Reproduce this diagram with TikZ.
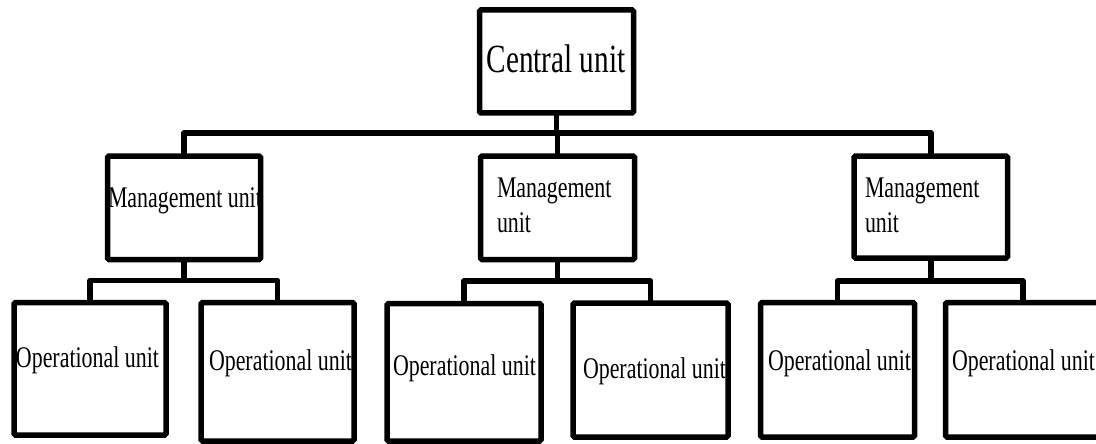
\documentclass[tikz,border=0pt]{standalone}
\usepackage{fontspec}
\newfontfamily\lblfont[FakeStretch=0.73]{Liberation Serif}
\begin{document}
\begin{tikzpicture}[x=1pt,y=-1pt,
  unitbox/.style={draw, line width=5.5pt, rounded corners=1.5pt, inner sep=0pt, outer sep=0pt},
  link/.style={line width=5.5pt, line join=round},
  txt/.style={inner sep=0pt, outer sep=0pt, font=\lblfont\fontsize{30}{35}\selectfont, anchor=base west, align=left},
  bigtxt/.style={inner sep=0pt, outer sep=0pt, font=\lblfont\fontsize{40}{46}\selectfont, anchor=base},
]
\useasboundingbox (0,0) rectangle (1096,444);
% boxes
\node[unitbox, minimum width=154pt, minimum height=103pt] (c) at (556.5,61.5) {};
\node[unitbox, minimum width=153pt, minimum height=103.5pt] (mL) at (184,207.75) {};
\node[unitbox, minimum width=154pt, minimum height=103.5pt] (mM) at (557.5,207.75) {};
\node[unitbox, minimum width=153.5pt, minimum height=102pt] (mR) at (930.75,207) {};
\node[unitbox, minimum width=152pt, minimum height=132.5pt] (o1) at (90,368.75) {};
\node[unitbox, minimum width=153pt, minimum height=138.5pt] (o2) at (277.5,371.75) {};
\node[unitbox, minimum width=154pt, minimum height=137.5pt] (o3) at (464,372.25) {};
\node[unitbox, minimum width=155pt, minimum height=134pt] (o4) at (650.5,370) {};
\node[unitbox, minimum width=154pt, minimum height=134.5pt] (o5) at (837.5,369.75) {};
\node[unitbox, minimum width=154.5pt, minimum height=134.5pt] (o6) at (1022.75,369.75) {};
% bus coordinates
\coordinate (bus) at (558,133);
\coordinate (sL) at (184,280.5);
\coordinate (sM) at (558,281);
\coordinate (sR) at (931,281);
% connectors
\draw[link] (c.south) -- (c.south |- bus);
\draw[link] (mL.north) |- (bus) -| (mR.north);
\draw[link] (mM.north) -- (mM.north |- bus);
\draw[link] (mL.south) -- (mL.south |- sL);
\draw[link] (o1.north) |- (sL) -| (o2.north);
\draw[link] (mM.south) -- (mM.south |- sM);
\draw[link] (o3.north) |- (sM) -| (o4.north);
\draw[link] (mR.south) -- (mR.south |- sR);
\draw[link] (o5.north) |- (sR) -| (o6.north);
% texts
\node[bigtxt] (tc) at (556,73) {Central unit};
\begin{scope}\clip (mL.north west) rectangle (mL.south east);
\node[txt] (tmL) at (108,207) {Management unit};\end{scope}
\node[txt] (tmM) at (497,232) {Management\\unit};
\node[txt] (tmR) at (865,232) {Management\\unit};
\begin{scope}\clip (o1.north west) rectangle (o1.south east);
\node[txt] (to1) at (16,367) {Operational unit};\end{scope}
\begin{scope}\clip (o2.north west) rectangle (o2.south east);
\node[txt] (to2) at (209,370) {Operational unit};\end{scope}
\begin{scope}\clip (o3.north west) rectangle (o3.south east);
\node[txt] (to3) at (393,375) {Operational unit};\end{scope}
\begin{scope}\clip (o4.north west) rectangle (o4.south east);
\node[txt] (to4) at (583,378) {Operational unit};\end{scope}
\begin{scope}\clip (o5.north west) rectangle (o5.south east);
\node[txt] (to5) at (768,370) {Operational unit};\end{scope}
\node[txt] (to6) at (952,370) {Operational unit};
\end{tikzpicture}
\end{document}
